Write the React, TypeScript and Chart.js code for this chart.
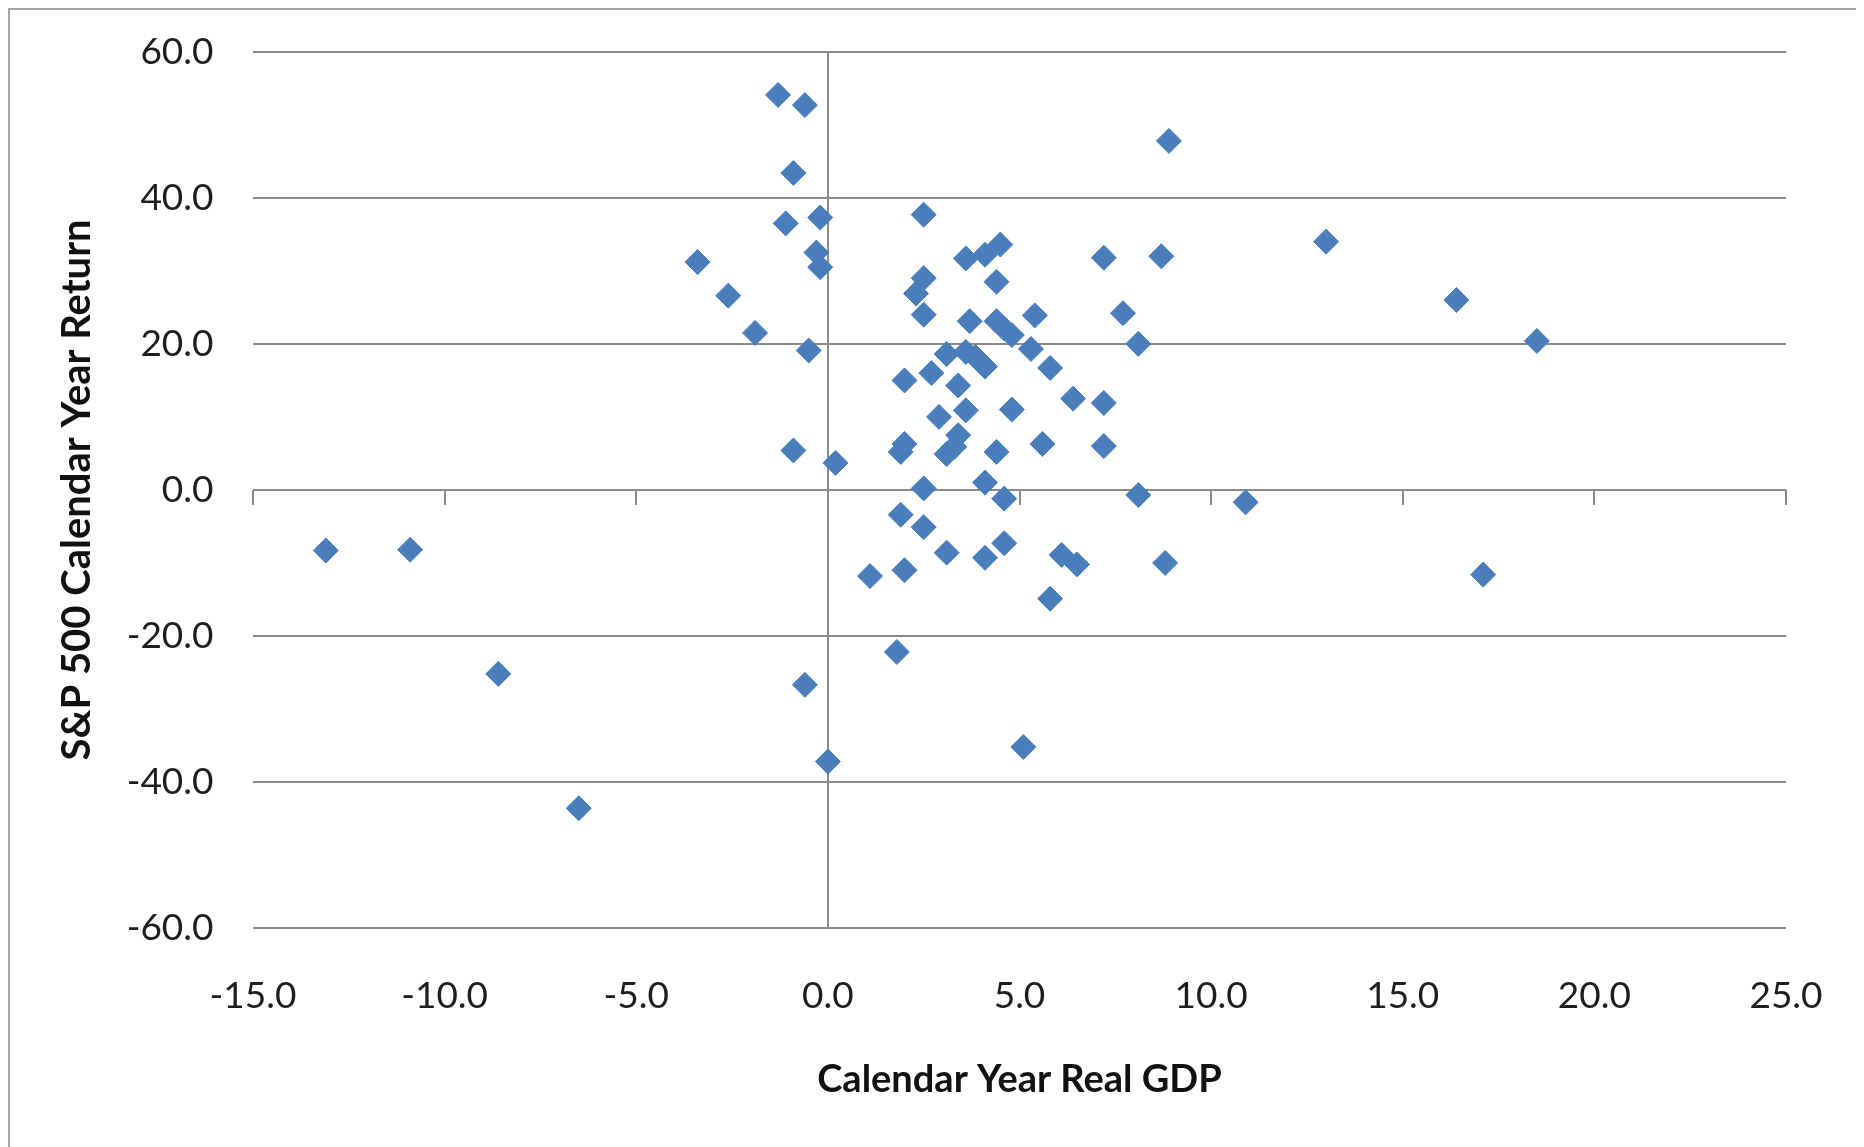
import React, { useEffect, useRef } from "react";
import { Chart, registerables } from "chart.js";

Chart.register(...registerables);

// Calendar-year real GDP growth (%) and the S&P 500 return (%) for the same year
const realGdp = [
  -13.1, -10.9, -8.6, -6.5, -3.4, -2.6, -1.9, -1.3, -1.1, -0.9, -0.9, -0.6, -0.6, -0.5,
  -0.3, -0.2, -0.2, 0.0, 0.2, 1.1, 1.8, 1.9, 1.9, 2.0, 2.0, 2.0, 2.3, 2.5, 2.5, 2.5,
  2.5, 2.5, 2.7, 2.9, 3.1, 3.1, 3.1, 3.3, 3.4, 3.4, 3.6, 3.6, 3.6, 3.7, 3.85, 4.1,
  4.1, 4.1, 4.1, 4.4, 4.4, 4.4, 4.5, 4.6, 4.6, 4.6, 4.8, 4.8, 5.1, 5.3, 5.4, 5.6,
  5.8, 5.8, 6.1, 6.4, 6.5, 7.2, 7.2, 7.2, 7.7, 8.1, 8.1, 8.7, 8.8, 8.9, 10.9, 13.0,
  16.4, 17.1, 18.5,
];

const sp500Return = [
  -8.3, -8.2, -25.2, -43.6, 31.2, 26.6, 21.5, 54.1, 36.5, 43.4, 5.4, 52.7, -26.7, 19.1,
  32.5, 37.3, 30.5, -37.2, 3.7, -11.8, -22.2, -3.4, 5.2, 6.3, 15.0, -11.0, 26.9, 29.0, 37.7, 24.0,
  0.2, -5.1, 16.0, 10.0, 18.6, 4.9, -8.6, 5.9, 14.3, 7.5, 18.9, 31.7, 10.9, 23.1, 18.2, 16.9,
  32.2, 1.0, -9.3, 28.5, 23.1, 5.2, 33.6, 22.1, -1.2, -7.3, 21.2, 11.0, -35.2, 19.3, 23.9, 6.3,
  16.7, -14.9, -8.9, 12.5, -10.2, 31.8, 11.9, 6.0, 24.2, 20.0, -0.7, 32.0, -10.0, 47.8, -1.7, 34.0,
  26.0, -11.6, 20.4,
];

// Axis ranges and tick spacing
const xRange = [-15, 25];
const xStep = 5;
const yRange = [-60, 60];
const yStep = 20;

const xTitle = "Calendar Year Real GDP";
const yTitle = "S&P 500 Calendar Year Return";

const FONT = "Lato, 'Noto Sans', sans-serif";
const TEXT = "#1e1e1e";
const GRID = "#8a8a8a";
const MARKER = "#4a7ebb";

// Short tick marks hanging below the zero line, one for each x tick
const zeroLineTicks = {
  id: "zeroLineTicks",
  beforeDatasetsDraw(chart: any) {
    const { ctx, scales } = chart;
    const x = scales.x;
    const y = scales.y;
    const y0 = y.getPixelForValue(0);
    ctx.save();
    ctx.strokeStyle = GRID;
    ctx.lineWidth = 2;
    ctx.beginPath();
    x.ticks.forEach((t: any) => {
      const px = Math.round(x.getPixelForValue(t.value));
      ctx.moveTo(px, y0);
      ctx.lineTo(px, y0 + 15);
    });
    ctx.stroke();
    ctx.restore();
  },
};

export default function App() {
  const canvasRef = useRef<HTMLCanvasElement | null>(null);

  useEffect(() => {
    const canvas = canvasRef.current;
    if (!canvas) return;
    const points = realGdp.map((x, i) => ({ x, y: sp500Return[i] }));

    const chart = new Chart(canvas, {
      type: "scatter",
      data: {
        datasets: [
          {
            label: "S&P 500 vs GDP",
            data: points,
            pointStyle: "rectRot",
            pointRadius: 12.5,
            pointBackgroundColor: MARKER,
            pointBorderColor: MARKER,
            pointBorderWidth: 1,
          },
        ],
      },
      options: {
        responsive: false,
        animation: false,
        devicePixelRatio: 1,
        layout: { padding: { top: 41.8, right: 73, bottom: 0, left: 0 } },
        plugins: {
          legend: { display: false },
          tooltip: { enabled: false },
        },
        scales: {
          x: {
            type: "linear",
            min: xRange[0],
            max: xRange[1],
            afterFit: (s: any) => {
              s.height = 219;
              s.paddingLeft = 0;
              s.paddingRight = 0;
            },
            border: { display: false },
            grid: {
              drawTicks: false,
              lineWidth: 2,
              color: (c: any) =>
                c.tick && c.tick.value === 0 ? GRID : "rgba(0,0,0,0)",
            },
            ticks: {
              stepSize: xStep,
              padding: 46,
              maxRotation: 0,
              autoSkip: false,
              color: TEXT,
              font: { family: FONT, size: 37 },
              callback: (v: any) => Number(v).toFixed(1),
            },
            title: {
              display: true,
              text: xTitle,
              color: "#111",
              font: { family: FONT, size: 38, weight: "bold" },
              padding: { top: 0, bottom: 44.6 },
            },
          },
          y: {
            type: "linear",
            min: yRange[0],
            max: yRange[1],
            afterFit: (s: any) => {
              s.width = 243;
              s.paddingTop = 0;
              s.paddingBottom = 0;
            },
            border: { display: false },
            grid: { drawTicks: false, lineWidth: 2, color: GRID },
            ticks: {
              stepSize: yStep,
              padding: 39.5,
              color: TEXT,
              font: { family: FONT, size: 37 },
              callback: (v: any) => Number(v).toFixed(1),
            },
            title: {
              display: true,
              text: yTitle,
              color: "#111",
              font: { family: FONT, size: 40, weight: "bold" },
              padding: { top: 43.5, bottom: 0 },
            },
          },
        },
      },
      plugins: [zeroLineTicks],
    });

    return () => chart.destroy();
  }, []);

  return (
    <div
      style={{
        position: "relative",
        width: 1853,
        height: 1139,
        boxSizing: "border-box",
        borderTop: "2px solid #a3a3a3",
        borderLeft: "2px solid #a3a3a3",
        borderRight: "2px solid #a3a3a3",
        background: "#fff",
      }}
    >
      <canvas
        ref={canvasRef}
        width={1849}
        height={1137}
        style={{ display: "block", width: 1849, height: 1137 }}
      />
    </div>
  );
}
